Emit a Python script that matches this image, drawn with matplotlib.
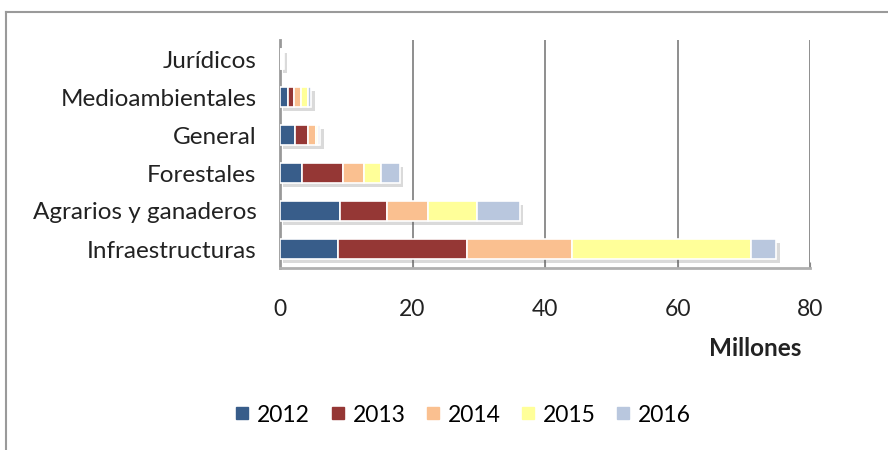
import matplotlib
matplotlib.use("Agg")
import matplotlib.pyplot as plt
import matplotlib.patheffects as pe
from matplotlib.lines import Line2D
import numpy as np

plt.rcParams['font.family'] = ['Lato', 'DejaVu Sans']

categories = ["Infraestructuras", "Agrarios y ganaderos", "Forestales", "General",
              "Medioambientales", "Jurídicos"]
years = ["2012", "2013", "2014", "2015", "2016"]
v2012 = [8.7, 9.1, 3.3, 2.3, 1.2, 0.15]
v2013 = [19.6, 7.0, 6.2, 2.0, 0.9, 0.1]
v2014 = [15.8, 6.3, 3.2, 1.1, 1.0, 0.1]
v2015 = [27.0, 7.3, 2.6, 0.4, 1.1, 0.1]
v2016 = [3.8, 6.5, 2.8, 0.3, 0.5, 0.1]
series = [v2012, v2013, v2014, v2015, v2016]
colors = ["#385D8A", "#953735", "#FAC090", "#FFFF99", "#B9C7DE"]
xticks = [0, 20, 40, 60, 80]

fig = plt.figure(figsize=(8.88, 4.5), dpi=100)
ax = fig.add_axes([280/888, 1-268/450, 530/888, 228/450])

y = np.arange(len(categories))
left = np.zeros(len(categories))
shadow = [pe.SimplePatchShadow(offset=(2.5, -3), shadow_rgbFace=(0.35, 0.35, 0.35), alpha=0.22),
          pe.Normal()]
for vals, c, lab in zip(series, colors, years):
    bars = ax.barh(y, vals, left=left, height=0.52, color=c, edgecolor="white",
                   linewidth=1.2, label=lab, zorder=3)
    for b in bars:
        b.set_path_effects(shadow)
    left += np.array(vals)

ax.set_xlim(0, 80)
ax.set_ylim(-0.5, len(categories) - 0.5)
ax.set_yticks(y)
ax.set_yticklabels(categories, fontsize=17.5, color="#222222")
ax.set_xticks(xticks)
ax.set_xticklabels([str(t) for t in xticks], fontsize=16.5, color="#222222")
ax.tick_params(axis='y', length=0, pad=17)
ax.tick_params(axis='x', length=4, direction='in', pad=22, color="#888888")
ax.grid(axis='x', color="#868686", linewidth=1.3, zorder=0)
ax.set_axisbelow(True)
for s in ["top", "right"]:
    ax.spines[s].set_visible(False)
ax.spines["left"].set_color("#999999")
ax.spines["left"].set_linewidth(2.0)
ax.spines["bottom"].set_color("#B0B0B0")
ax.spines["bottom"].set_linewidth(2.0)

fig.text(755/888, 1-348/450, "Millones", fontsize=17.5, fontweight="bold",
         ha="center", va="center", color="#222222")

handles = [Line2D([], [], marker='s', linestyle='none', markersize=9,
                  markerfacecolor=c, markeredgecolor=c) for c in colors]
fig.legend(handles, years, loc="center", bbox_to_anchor=(460/888, 1-415/450),
           ncol=5, frameon=False, fontsize=16.5, handletextpad=0.05,
           columnspacing=0.6, handlelength=1.2)

# outer frame
fig.add_artist(Line2D([6/888, 1.0], [1-12/450, 1-12/450], color="#9A9A9A", linewidth=1.5,
                      transform=fig.transFigure))
fig.add_artist(Line2D([6/888, 6/888], [0, 1-12/450], color="#9A9A9A", linewidth=1.5,
                      transform=fig.transFigure))

fig.savefig("out.png", dpi=100)
